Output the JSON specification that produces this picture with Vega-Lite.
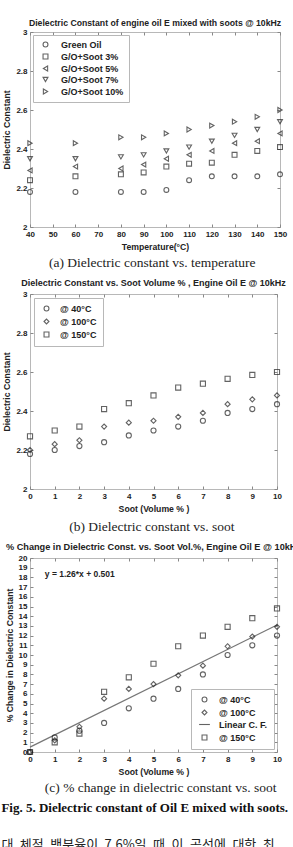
{
  "$schema": "https://vega.github.io/schema/vega-lite/v6.json",
  "padding": {"left": 1, "top": 18, "right": 0, "bottom": 0},
  "background": "white",
  "config": {
    "font": "Liberation Sans",
    "view": {"stroke": "#b8b8b8", "strokeWidth": 1},
    "axis": {
      "grid": false, "domain": false,
      "labelFont": "Liberation Sans", "labelFontWeight": "bold", "labelFontSize": 8, "labelColor": "#222",
      "titleFont": "Liberation Sans", "titleFontWeight": "bold", "titleFontSize": 8.7, "titleColor": "#222",
      "tickColor": "#888", "tickSize": -3, "labelPadding": 6, "titlePadding": 4, "labelOverlap": false, "labelFlush": false
    },
    "title": {"font": "Liberation Sans", "fontSize": 8.8, "fontWeight": "bold", "color": "#222", "offset": 2},
    "legend": {
      "strokeColor": "#b8b8b8", "fillColor": "white", "padding": 5,
      "labelFont": "Liberation Sans", "labelFontSize": 9, "labelFontWeight": "bold", "labelColor": "#222",
      "symbolStrokeColor": "#222", "symbolStrokeWidth": 1, "symbolSize": 24, "symbolFillColor": "transparent"
    },
    "point": {"filled": false, "stroke": "#222", "strokeWidth": 1.1}
  },
  "datasets": {
    "a": [
      {"temp": 40, "series": "Green Oil", "dc": 2.18}, {"temp": 60, "series": "Green Oil", "dc": 2.18}, {"temp": 80, "series": "Green Oil", "dc": 2.18}, {"temp": 90, "series": "Green Oil", "dc": 2.18}, {"temp": 100, "series": "Green Oil", "dc": 2.19}, {"temp": 110, "series": "Green Oil", "dc": 2.24}, {"temp": 120, "series": "Green Oil", "dc": 2.26}, {"temp": 130, "series": "Green Oil", "dc": 2.26}, {"temp": 140, "series": "Green Oil", "dc": 2.26}, {"temp": 150, "series": "Green Oil", "dc": 2.27},
      {"temp": 40, "series": "G/O+Soot 3%", "dc": 2.24}, {"temp": 60, "series": "G/O+Soot 3%", "dc": 2.26}, {"temp": 80, "series": "G/O+Soot 3%", "dc": 2.27}, {"temp": 90, "series": "G/O+Soot 3%", "dc": 2.28}, {"temp": 100, "series": "G/O+Soot 3%", "dc": 2.31}, {"temp": 110, "series": "G/O+Soot 3%", "dc": 2.325}, {"temp": 120, "series": "G/O+Soot 3%", "dc": 2.33}, {"temp": 130, "series": "G/O+Soot 3%", "dc": 2.37}, {"temp": 140, "series": "G/O+Soot 3%", "dc": 2.39}, {"temp": 150, "series": "G/O+Soot 3%", "dc": 2.41},
      {"temp": 40, "series": "G/O+Soot 5%", "dc": 2.29}, {"temp": 60, "series": "G/O+Soot 5%", "dc": 2.31}, {"temp": 80, "series": "G/O+Soot 5%", "dc": 2.30}, {"temp": 90, "series": "G/O+Soot 5%", "dc": 2.32}, {"temp": 100, "series": "G/O+Soot 5%", "dc": 2.35}, {"temp": 110, "series": "G/O+Soot 5%", "dc": 2.37}, {"temp": 120, "series": "G/O+Soot 5%", "dc": 2.39}, {"temp": 130, "series": "G/O+Soot 5%", "dc": 2.43}, {"temp": 140, "series": "G/O+Soot 5%", "dc": 2.44}, {"temp": 150, "series": "G/O+Soot 5%", "dc": 2.48},
      {"temp": 40, "series": "G/O+Soot 7%", "dc": 2.35}, {"temp": 60, "series": "G/O+Soot 7%", "dc": 2.35}, {"temp": 80, "series": "G/O+Soot 7%", "dc": 2.36}, {"temp": 90, "series": "G/O+Soot 7%", "dc": 2.37}, {"temp": 100, "series": "G/O+Soot 7%", "dc": 2.39}, {"temp": 110, "series": "G/O+Soot 7%", "dc": 2.41}, {"temp": 120, "series": "G/O+Soot 7%", "dc": 2.44}, {"temp": 130, "series": "G/O+Soot 7%", "dc": 2.47}, {"temp": 140, "series": "G/O+Soot 7%", "dc": 2.50}, {"temp": 150, "series": "G/O+Soot 7%", "dc": 2.54},
      {"temp": 40, "series": "G/O+Soot 10%", "dc": 2.43}, {"temp": 60, "series": "G/O+Soot 10%", "dc": 2.43}, {"temp": 80, "series": "G/O+Soot 10%", "dc": 2.46}, {"temp": 90, "series": "G/O+Soot 10%", "dc": 2.46}, {"temp": 100, "series": "G/O+Soot 10%", "dc": 2.48}, {"temp": 110, "series": "G/O+Soot 10%", "dc": 2.50}, {"temp": 120, "series": "G/O+Soot 10%", "dc": 2.52}, {"temp": 130, "series": "G/O+Soot 10%", "dc": 2.54}, {"temp": 140, "series": "G/O+Soot 10%", "dc": 2.565}, {"temp": 150, "series": "G/O+Soot 10%", "dc": 2.60}
    ],
    "b": [
      {"soot": 0, "series": "@ 40°C", "dc": 2.18}, {"soot": 1, "series": "@ 40°C", "dc": 2.20}, {"soot": 2, "series": "@ 40°C", "dc": 2.22}, {"soot": 3, "series": "@ 40°C", "dc": 2.24}, {"soot": 4, "series": "@ 40°C", "dc": 2.275}, {"soot": 5, "series": "@ 40°C", "dc": 2.30}, {"soot": 6, "series": "@ 40°C", "dc": 2.32}, {"soot": 7, "series": "@ 40°C", "dc": 2.35}, {"soot": 8, "series": "@ 40°C", "dc": 2.39}, {"soot": 9, "series": "@ 40°C", "dc": 2.41}, {"soot": 10, "series": "@ 40°C", "dc": 2.435},
      {"soot": 0, "series": "@ 100°C", "dc": 2.20}, {"soot": 1, "series": "@ 100°C", "dc": 2.23}, {"soot": 2, "series": "@ 100°C", "dc": 2.25}, {"soot": 3, "series": "@ 100°C", "dc": 2.32}, {"soot": 4, "series": "@ 100°C", "dc": 2.34}, {"soot": 5, "series": "@ 100°C", "dc": 2.35}, {"soot": 6, "series": "@ 100°C", "dc": 2.37}, {"soot": 7, "series": "@ 100°C", "dc": 2.39}, {"soot": 8, "series": "@ 100°C", "dc": 2.435}, {"soot": 9, "series": "@ 100°C", "dc": 2.46}, {"soot": 10, "series": "@ 100°C", "dc": 2.48},
      {"soot": 0, "series": "@ 150°C", "dc": 2.27}, {"soot": 1, "series": "@ 150°C", "dc": 2.30}, {"soot": 2, "series": "@ 150°C", "dc": 2.32}, {"soot": 3, "series": "@ 150°C", "dc": 2.41}, {"soot": 4, "series": "@ 150°C", "dc": 2.44}, {"soot": 5, "series": "@ 150°C", "dc": 2.48}, {"soot": 6, "series": "@ 150°C", "dc": 2.52}, {"soot": 7, "series": "@ 150°C", "dc": 2.54}, {"soot": 8, "series": "@ 150°C", "dc": 2.565}, {"soot": 9, "series": "@ 150°C", "dc": 2.585}, {"soot": 10, "series": "@ 150°C", "dc": 2.60}
    ],
    "c": [
      {"soot": 0, "series": "@ 40°C", "pct": 0}, {"soot": 1, "series": "@ 40°C", "pct": 1.5}, {"soot": 2, "series": "@ 40°C", "pct": 2.2}, {"soot": 3, "series": "@ 40°C", "pct": 3.0}, {"soot": 4, "series": "@ 40°C", "pct": 4.5}, {"soot": 5, "series": "@ 40°C", "pct": 5.5}, {"soot": 6, "series": "@ 40°C", "pct": 6.5}, {"soot": 7, "series": "@ 40°C", "pct": 8.0}, {"soot": 8, "series": "@ 40°C", "pct": 10.0}, {"soot": 9, "series": "@ 40°C", "pct": 11.0}, {"soot": 10, "series": "@ 40°C", "pct": 12.0},
      {"soot": 0, "series": "@ 100°C", "pct": 0}, {"soot": 1, "series": "@ 100°C", "pct": 1.2}, {"soot": 2, "series": "@ 100°C", "pct": 2.6}, {"soot": 3, "series": "@ 100°C", "pct": 5.5}, {"soot": 4, "series": "@ 100°C", "pct": 6.5}, {"soot": 5, "series": "@ 100°C", "pct": 7.0}, {"soot": 6, "series": "@ 100°C", "pct": 7.9}, {"soot": 7, "series": "@ 100°C", "pct": 8.9}, {"soot": 8, "series": "@ 100°C", "pct": 10.9}, {"soot": 9, "series": "@ 100°C", "pct": 11.9}, {"soot": 10, "series": "@ 100°C", "pct": 12.9},
      {"soot": 0, "series": "@ 150°C", "pct": 0}, {"soot": 1, "series": "@ 150°C", "pct": 1.0}, {"soot": 2, "series": "@ 150°C", "pct": 1.9}, {"soot": 3, "series": "@ 150°C", "pct": 6.2}, {"soot": 4, "series": "@ 150°C", "pct": 7.7}, {"soot": 5, "series": "@ 150°C", "pct": 9.1}, {"soot": 6, "series": "@ 150°C", "pct": 10.9}, {"soot": 7, "series": "@ 150°C", "pct": 12.0}, {"soot": 8, "series": "@ 150°C", "pct": 12.9}, {"soot": 9, "series": "@ 150°C", "pct": 13.8}, {"soot": 10, "series": "@ 150°C", "pct": 14.8}
    ],
    "fit": [
      {"soot": 0, "pct": 0.501},
      {"soot": 10, "pct": 13.101}
    ],
    "eq": [
      {"soot": 0.6, "pct": 18.4, "label": "y = 1.26*x + 0.501"}
    ]
  },
  "spacing": 8,
  "resolve": {"scale": {"x": "independent", "y": "independent", "shape": "independent"}, "legend": {"shape": "independent"}},
  "title": {
    "text": "Fig. 5. Dielectric constant of Oil E mixed with soots.",
    "subtitle": "대\u2002체적\u2002백분율이\u20027.6%일\u2002때\u2002이\u2002곡선에\u2002대한\u2002최",
    "orient": "bottom", "anchor": "start", "frame": "bounds", "dx": -1, "offset": 7,
    "font": "Liberation Serif", "fontSize": 13, "fontWeight": "bold", "color": "#111",
    "subtitleFont": "Noto Sans CJK KR", "subtitleFontSize": 13, "subtitleColor": "#222", "subtitlePadding": 24
  },
  "vconcat": [
    {
      "title": {"text": "(a) Dielectric constant vs. temperature", "orient": "bottom", "anchor": "middle", "dx": 7.5, "offset": 5, "font": "Liberation Serif", "fontSize": 13.5, "fontWeight": "normal", "color": "#222"},
      "resolve": {"scale": {"shape": "independent"}, "legend": {"shape": "independent"}},
      "vconcat": [
        {
          "title": {"text": "Dielectric Constant of engine oil E mixed with soots @ 10kHz", "frame": "group", "anchor": "middle", "fontSize": 8.7, "offset": 0},
          "width": 250, "height": 195,
          "data": {"name": "a"},
          "resolve": {"axis": {"x": "independent", "y": "independent"}},
          "layer": [
            {
              "mark": {"type": "point", "size": 24},
              "encoding": {
                "x": {"field": "temp", "type": "quantitative", "scale": {"domain": [40, 150], "nice": false}, "axis": {"values": [40, 50, 60, 70, 80, 90, 100, 110, 120, 130, 140, 150], "title": "Temperature(°C)"}},
                "y": {"field": "dc", "type": "quantitative", "scale": {"domain": [2, 3], "nice": false, "zero": false}, "axis": {"values": [2, 2.2, 2.4, 2.6, 2.8, 3], "labelExpr": "'' + datum.value", "title": "Dielectric Constant"}},
                "shape": {"field": "series", "type": "nominal", "scale": {"domain": ["Green Oil", "G/O+Soot 3%", "G/O+Soot 5%", "G/O+Soot 7%", "G/O+Soot 10%"], "range": ["circle", "square", "triangle-left", "triangle-down", "triangle-right"]}, "legend": {"title": null, "orient": "top-left", "offset": 3, "rowPadding": 1, "padding": 5, "symbolOffset": 3, "labelOffset": 11}}
              }
            },
            {
              "mark": {"type": "point", "opacity": 0},
              "encoding": {
                "x": {"field": "temp", "type": "quantitative", "axis": {"orient": "top", "labels": false, "labelPadding": 0, "title": null, "values": [40, 50, 60, 70, 80, 90, 100, 110, 120, 130, 140, 150]}},
                "y": {"field": "dc", "type": "quantitative", "axis": {"orient": "right", "labels": false, "labelPadding": 0, "title": null, "values": [2, 2.2, 2.4, 2.6, 2.8, 3]}}
              }
            }
          ]
        }
      ]
    },
    {
      "title": {"text": "(b) Dielectric constant vs. soot", "orient": "bottom", "anchor": "middle", "dx": 7.5, "offset": 7, "font": "Liberation Serif", "fontSize": 13.5, "fontWeight": "normal", "color": "#222"},
      "resolve": {"scale": {"shape": "independent"}, "legend": {"shape": "independent"}},
      "vconcat": [
        {
          "title": {"text": "Dielectric Constant vs. Soot Volume % , Engine Oil E @ 10kHz", "frame": "group", "anchor": "middle", "fontSize": 9},
          "width": 247, "height": 195,
          "data": {"name": "b"},
          "resolve": {"axis": {"x": "independent", "y": "independent"}},
          "layer": [
            {
              "mark": {"type": "point", "size": 26},
              "encoding": {
                "x": {"field": "soot", "type": "quantitative", "scale": {"domain": [0, 10], "nice": false}, "axis": {"values": [0, 1, 2, 3, 4, 5, 6, 7, 8, 9, 10], "title": "Soot (Volume % )"}},
                "y": {"field": "dc", "type": "quantitative", "scale": {"domain": [2, 3], "nice": false, "zero": false}, "axis": {"values": [2, 2.2, 2.4, 2.6, 2.8, 3], "labelExpr": "'' + datum.value", "title": "Dielectric Constant"}},
                "shape": {"field": "series", "type": "nominal", "scale": {"domain": ["@ 40°C", "@ 100°C", "@ 150°C"], "range": ["circle", "diamond", "square"]}, "legend": {"title": null, "orient": "top-left", "offset": 4, "rowPadding": 2, "padding": 6, "symbolOffset": 2, "labelOffset": 9}}
              }
            },
            {
              "mark": {"type": "point", "opacity": 0},
              "encoding": {
                "x": {"field": "soot", "type": "quantitative", "axis": {"orient": "top", "labels": false, "labelPadding": 0, "title": null, "values": [0, 1, 2, 3, 4, 5, 6, 7, 8, 9, 10]}},
                "y": {"field": "dc", "type": "quantitative", "axis": {"orient": "right", "labels": false, "labelPadding": 0, "title": null, "values": [2, 2.2, 2.4, 2.6, 2.8, 3]}}
              }
            }
          ]
        }
      ]
    },
    {
      "title": {"text": "(c) % change in dielectric constant vs. soot", "orient": "bottom", "anchor": "middle", "dx": 7.5, "offset": 5, "font": "Liberation Serif", "fontSize": 13.5, "fontWeight": "normal", "color": "#222"},
      "resolve": {"scale": {"shape": "independent"}, "legend": {"shape": "independent"}},
      "vconcat": [
        {
          "title": {"text": "% Change in Dielectric Const. vs. Soot Vol.%, Engine Oil E @ 10kHz", "frame": "group", "anchor": "middle", "fontSize": 9.2},
          "width": 247, "height": 194,
          "resolve": {"axis": {"x": "independent", "y": "independent"}},
          "layer": [
            {
              "data": {"name": "fit"},
              "mark": {"type": "line", "strokeWidth": 1.2, "color": "#777"},
              "encoding": {
                "x": {"field": "soot", "type": "quantitative", "scale": {"domain": [0, 10], "nice": false}, "axis": null},
                "y": {"field": "pct", "type": "quantitative", "scale": {"domain": [0, 20], "nice": false}, "axis": null}
              }
            },
            {
              "data": {"name": "c"},
              "mark": {"type": "point", "size": 26},
              "encoding": {
                "x": {"field": "soot", "type": "quantitative", "axis": {"values": [0, 1, 2, 3, 4, 5, 6, 7, 8, 9, 10], "title": "Soot (Volume % )"}},
                "y": {"field": "pct", "type": "quantitative", "axis": {"values": [0, 1, 2, 3, 4, 5, 6, 7, 8, 9, 10, 11, 12, 13, 14, 15, 16, 17, 18, 19, 20], "title": "% Change in Dielectric Constant"}},
                "shape": {"field": "series", "type": "nominal", "scale": {"domain": ["@ 40°C", "@ 100°C", "Linear C. F.", "@ 150°C"], "range": ["circle", "diamond", "M-2.2,0L2.2,0", "square"]}, "legend": {"title": null, "orient": "bottom-right", "offset": 3, "rowPadding": 2, "padding": 6, "symbolOffset": 3, "labelOffset": 10, "encode": {"symbols": {"update": {"stroke": {"signal": "datum.label === 'Linear C. F.' ? '#777' : '#222'"}}}}}}
              }
            },
            {
              "data": {"name": "eq"},
              "mark": {"type": "text", "align": "left", "baseline": "middle", "font": "Liberation Sans", "fontWeight": "bold", "fontSize": 8.5, "color": "#222"},
              "encoding": {
                "x": {"field": "soot", "type": "quantitative", "axis": null},
                "y": {"field": "pct", "type": "quantitative", "axis": null},
                "text": {"field": "label"}
              }
            },
            {
              "data": {"name": "c"},
              "mark": {"type": "point", "opacity": 0},
              "encoding": {
                "x": {"field": "soot", "type": "quantitative", "axis": {"orient": "top", "labels": false, "labelPadding": 0, "title": null, "values": [0, 1, 2, 3, 4, 5, 6, 7, 8, 9, 10]}},
                "y": {"field": "pct", "type": "quantitative", "axis": {"orient": "right", "labels": false, "labelPadding": 0, "title": null, "values": [0, 1, 2, 3, 4, 5, 6, 7, 8, 9, 10, 11, 12, 13, 14, 15, 16, 17, 18, 19, 20]}}
              }
            }
          ]
        }
      ]
    }
  ]
}
